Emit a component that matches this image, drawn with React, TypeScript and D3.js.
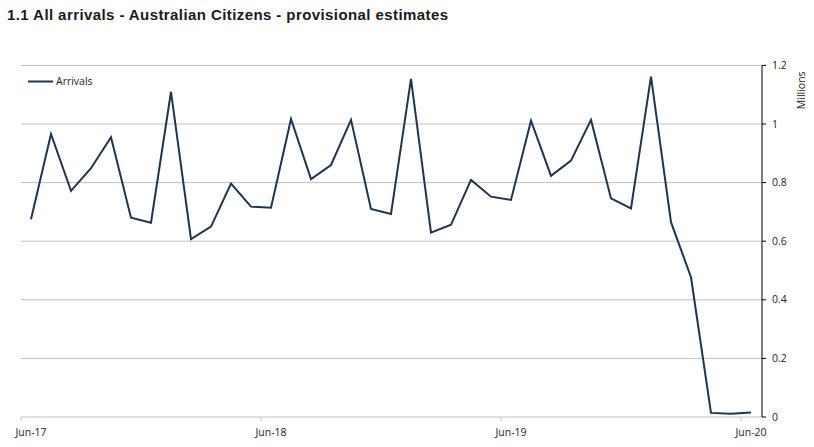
import React from "react";
import * as d3 from "d3";

const months: string[] = [
  "Jun-17","Jul-17","Aug-17","Sep-17","Oct-17","Nov-17","Dec-17",
  "Jan-18","Feb-18","Mar-18","Apr-18","May-18","Jun-18",
  "Jul-18","Aug-18","Sep-18","Oct-18","Nov-18","Dec-18",
  "Jan-19","Feb-19","Mar-19","Apr-19","May-19","Jun-19",
  "Jul-19","Aug-19","Sep-19","Oct-19","Nov-19","Dec-19",
  "Jan-20","Feb-20","Mar-20","Apr-20","May-20","Jun-20",
];

const arrivals: number[] = [
  0.675, 0.966, 0.772, 0.849, 0.955, 0.680, 0.663,
  1.110, 0.607, 0.650, 0.797, 0.718, 0.714,
  1.017, 0.812, 0.860, 1.014, 0.710, 0.693,
  1.154, 0.629, 0.656, 0.809, 0.752, 0.741,
  1.011, 0.823, 0.875, 1.014, 0.746, 0.712,
  1.162, 0.665, 0.477, 0.014, 0.011, 0.015,
];

const xLabels: string[] = ["Jun-17", "Jun-18", "Jun-19", "Jun-20"];
const yTicks: number[] = [0, 0.2, 0.4, 0.6, 0.8, 1, 1.2];

const W = 814;
const H = 447;
const FONT = "'Open Sans', 'DejaVu Sans', sans-serif";

export default function App() {
  const x = d3.scaleBand<string>().domain(months).range([21, 761]).paddingInner(0).paddingOuter(0);
  const y = d3.scaleLinear().domain([0, 1.2]).range([417, 65.4]);
  const cx = (m: string) => (x(m) as number) + x.bandwidth() / 2;

  const line = d3
    .line<number>()
    .x((_, i) => cx(months[i]))
    .y((d) => y(d));

  const xRight = 762;

  return (
    <div style={{ position: "absolute", left: 0, top: 0, width: W, height: H, background: "#fff" }}>
      <svg width={W} height={H} style={{ display: "block" }}>
        <rect width={W} height={H} fill="#fff" />
        <text
          x={7}
          y={19.5}
          fontFamily="'Liberation Sans', Arial, sans-serif"
          fontWeight="bold"
          fontSize={15}
          fill="#1a1a1a"
          textLength={441}
          lengthAdjust="spacing"
        >
          1.1 All arrivals - Australian Citizens - provisional estimates
        </text>

        {yTicks.filter((t) => t > 0).map((t) => (
          <line key={"g" + t} x1={21} x2={xRight} y1={y(t)} y2={y(t)} stroke="#c0c0c0" strokeWidth={1} />
        ))}
        {/* x axis line */}
        <line x1={21} x2={xRight} y1={y(0)} y2={y(0)} stroke="#c0c0c0" strokeWidth={1} />
        {xLabels.map((m) => (
          <g key={m}>
            <line x1={(x(m) as number)} x2={(x(m) as number)} y1={y(0)} y2={y(0) + 4} stroke="#c0c0c0" strokeWidth={1} />
            <text x={cx(m)} y={436} textAnchor="middle" fontFamily={FONT} fontSize={10.5} fill="#222">
              {m}
            </text>
          </g>
        ))}

        {/* right axis */}
        <line x1={xRight} x2={xRight} y1={y(1.2)} y2={y(0)} stroke="#000" strokeWidth={1} />
        {yTicks.map((t) => (
          <g key={"t" + t}>
            <line x1={xRight} x2={xRight + 4} y1={y(t)} y2={y(t)} stroke="#000" strokeWidth={1} />
            <text x={772} y={y(t)} dy="0.35em" fontFamily={FONT} fontSize={10.5} fill="#222">
              {d3.format("~g")(t)}
            </text>
          </g>
        ))}
        <text
          transform={`translate(805, ${y(1.115)}) rotate(-90)`}
          textAnchor="middle"
          fontFamily={FONT}
          fontSize={10.5}
          fill="#222"
        >
          Millions
        </text>

        <path d={line(arrivals) || ""} fill="none" stroke="#1e3552" strokeWidth={2} strokeLinejoin="miter" />

        {/* legend */}
        <line x1={28} x2={53} y1={81.5} y2={81.5} stroke="#1e3552" strokeWidth={2} />
        <text x={56} y={81.5} dy="0.35em" fontFamily={FONT} fontSize={10.5} fill="#222">
          Arrivals
        </text>
      </svg>
    </div>
  );
}
